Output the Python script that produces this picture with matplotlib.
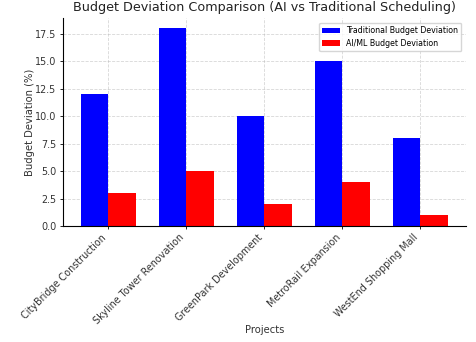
import numpy as np
import matplotlib.pyplot as plt

# project budget deviations (%)
projects = ['CityBridge Construction', 'Skyline Tower Renovation', 'GreenPark Development',
            'MetroRail Expansion', 'WestEnd Shopping Mall']
traditional_dev = [12, 18, 10, 15, 8]
ai_dev = [3, 5, 2, 4, 1]

x = np.arange(len(projects))
width = 0.35

fig = plt.figure(figsize=(4.76, 3.42), dpi=100)
ax = fig.add_axes([0.132, 0.339, 0.847, 0.608])

ax.bar(x - width / 2, traditional_dev, width, label='Traditional Budget Deviation', color='blue')
ax.bar(x + width / 2, ai_dev, width, label='AI/ML Budget Deviation', color='red')

ax.set_xlabel('Projects', fontsize=7.2, color='#333333')
ax.set_ylabel('Budget Deviation (%)', fontsize=7.2, color='#333333')
ax.xaxis.set_label_coords(0.5, -0.475)
ax.yaxis.set_label_coords(-0.068, 0.5)
ax.set_title('Budget Deviation Comparison (AI vs Traditional Scheduling)', fontsize=9.2,
             color='#222222', pad=5)
ax.set_xticks(x)
ax.set_xticklabels(projects, rotation=45, ha='right', fontsize=6.9, color='#333333')
ax.tick_params(axis='both', length=2.5, pad=2, width=0.6)
ax.tick_params(axis='y', labelsize=6.9, labelcolor='#333333')
ax.legend(fontsize=5.7, loc='upper right', handlelength=2.2, borderaxespad=0.6)
ax.grid(True, linestyle='--', alpha=0.5, linewidth=0.6)
ax.set_axisbelow(True)

for side in ['top', 'right']:
    ax.spines[side].set_visible(False)

fig.savefig('out.png', dpi=100)
